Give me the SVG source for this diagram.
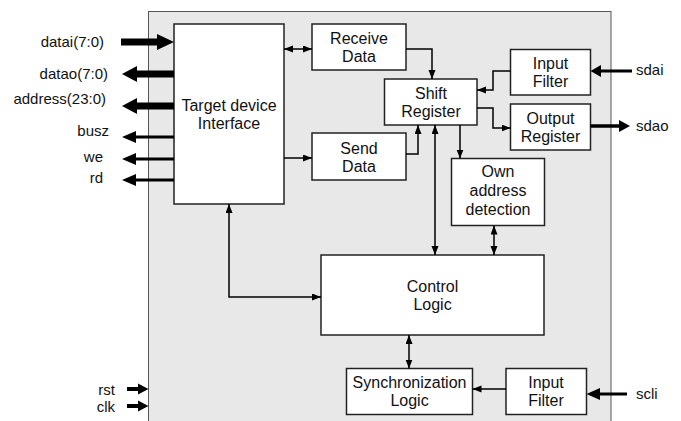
<svg xmlns="http://www.w3.org/2000/svg" width="681" height="421" viewBox="0 0 681 421">
<defs>
<style>
.box{fill:#fff;stroke:#222;stroke-width:1.5}
.t{font-family:"Liberation Sans",Arial,sans-serif;font-size:16px;fill:#111;text-anchor:middle}
.lbl{font-family:"Liberation Sans",Arial,sans-serif;font-size:15px;fill:#111}
.c{fill:none;stroke:#000;stroke-width:1.5}
.b{stroke:#000;fill:none}
.h{fill:#000}
</style>
<marker id="a" markerUnits="userSpaceOnUse" markerWidth="10" markerHeight="8" refX="9" refY="3.5" orient="auto-start-reverse">
<path d="M0,0 L9,3.5 L0,7 z" fill="#000"/>
</marker>
</defs>
<rect x="148.5" y="11.5" width="462.5" height="420" fill="#e8e8e8" stroke="#555" stroke-width="1"/>

<g id="tdi"><rect class="box" x="174" y="24" width="110" height="180"/><text class="t" x="229" y="111">Target device</text><text class="t" x="229" y="129">Interface</text></g>
<g id="receive"><rect class="box" x="312" y="24" width="94" height="46"/><text class="t" x="359" y="44">Receive</text><text class="t" x="359" y="62">Data</text></g>
<g id="send"><rect class="box" x="312" y="133" width="94" height="47"/><text class="t" x="359" y="153.5">Send</text><text class="t" x="359" y="171.5">Data</text></g>
<g id="shift"><rect class="box" x="384.5" y="79" width="92.5" height="46"/><text class="t" x="431" y="99">Shift</text><text class="t" x="431" y="117">Register</text></g>
<g id="inputfilter1"><rect class="box" x="510.5" y="49.5" width="80" height="45.5"/><text class="t" x="550.5" y="69">Input</text><text class="t" x="550.5" y="87">Filter</text></g>
<g id="outputreg"><rect class="box" x="510.5" y="104" width="80" height="46"/><text class="t" x="550.5" y="124">Output</text><text class="t" x="550.5" y="142">Register</text></g>
<g id="ownaddr"><rect class="box" x="451.5" y="158.5" width="93" height="67"/><text class="t" x="498" y="177">Own</text><text class="t" x="498" y="196">address</text><text class="t" x="498" y="215">detection</text></g>
<g id="control"><rect class="box" x="321" y="255" width="223" height="80"/><text class="t" x="432.5" y="292">Control</text><text class="t" x="432.5" y="310">Logic</text></g>
<g id="sync"><rect class="box" x="346.5" y="368.5" width="126" height="46"/><text class="t" x="409.5" y="388">Synchronization</text><text class="t" x="409.5" y="406">Logic</text></g>
<g id="inputfilter2"><rect class="box" x="506" y="368.5" width="80.5" height="46"/><text class="t" x="546" y="388">Input</text><text class="t" x="546" y="406">Filter</text></g>

<g id="connectors">
<path class="c" d="M284,49 H312" marker-start="url(#a)" marker-end="url(#a)"/>
<path class="c" d="M284,158 H312" marker-end="url(#a)"/>
<path class="c" d="M406,49 H432 V79" marker-end="url(#a)"/>
<path class="c" d="M406,154 H418 V125" marker-end="url(#a)"/>
<path class="c" d="M510.5,71 H493 V90 H477" marker-end="url(#a)"/>
<path class="c" d="M477,108 H493 V128 H510.5" marker-end="url(#a)"/>
<path class="c" d="M460,125 V158.5" marker-end="url(#a)"/>
<path class="c" d="M435,125 V255" marker-start="url(#a)" marker-end="url(#a)"/>
<path class="c" d="M494,225.5 V255" marker-start="url(#a)" marker-end="url(#a)"/>
<path class="c" d="M229,204 V297 H321" marker-start="url(#a)" marker-end="url(#a)"/>
<path class="c" d="M409,335 V368.5" marker-start="url(#a)" marker-end="url(#a)"/>
<path class="c" d="M506,389 H472.5" marker-end="url(#a)"/>

<line class="b" x1="121" y1="42" x2="158" y2="42" stroke-width="7"/>
<polygon class="h" points="157,34 174,42 157,50"/>
<line class="b" x1="174" y1="74" x2="136" y2="74" stroke-width="7"/>
<polygon class="h" points="137,66 122,74 137,82"/>
<line class="b" x1="174" y1="106" x2="136" y2="106" stroke-width="7"/>
<polygon class="h" points="137,98 122,106 137,114"/>
<line class="b" x1="174" y1="137" x2="134" y2="137" stroke-width="3"/>
<polygon class="h" points="136,131 122,137 136,143"/>
<line class="b" x1="174" y1="159" x2="134" y2="159" stroke-width="3"/>
<polygon class="h" points="136,153 122,159 136,165"/>
<line class="b" x1="174" y1="180" x2="134" y2="180" stroke-width="3"/>
<polygon class="h" points="136,174 122,180 136,186"/>
<line class="b" x1="127" y1="389" x2="139" y2="389" stroke-width="4"/>
<polygon class="h" points="138,383.5 148.5,389 138,394.5"/>
<line class="b" x1="127" y1="406" x2="139" y2="406" stroke-width="4"/>
<polygon class="h" points="138,400.5 148.5,406 138,411.5"/>
<line class="b" x1="632" y1="71" x2="599" y2="71" stroke-width="3"/>
<polygon class="h" points="601,65 590.5,71 601,77"/>
<line class="b" x1="590.5" y1="126" x2="621" y2="126" stroke-width="3.5"/>
<polygon class="h" points="619,120 630,126 619,132"/>
<line class="b" x1="627" y1="394" x2="597" y2="394" stroke-width="3"/>
<polygon class="h" points="600,388 586.5,394 600,400"/>
</g>

<g id="labels">
<text class="lbl" x="104" y="47" text-anchor="end">datai(7:0)</text>
<text class="lbl" x="108" y="79" text-anchor="end">datao(7:0)</text>
<text class="lbl" x="106" y="104" text-anchor="end">address(23:0)</text>
<text class="lbl" x="109" y="135.5" text-anchor="end">busz</text>
<text class="lbl" x="103" y="162" text-anchor="end">we</text>
<text class="lbl" x="103" y="183" text-anchor="end">rd</text>
<text class="lbl" x="115" y="395" text-anchor="end">rst</text>
<text class="lbl" x="115" y="411.5" text-anchor="end">clk</text>
<text class="lbl" x="636" y="75">sdai</text>
<text class="lbl" x="636" y="130.5">sdao</text>
<text class="lbl" x="636" y="398.5">scli</text>
</g>
</svg>
